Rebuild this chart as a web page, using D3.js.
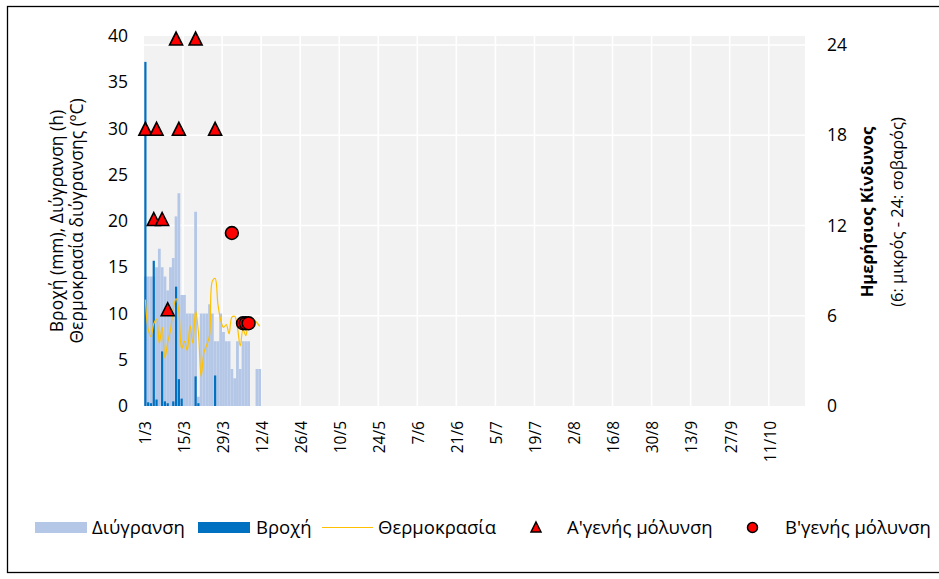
<!DOCTYPE html>
<html>
<head>
<meta charset="utf-8">
<script src="https://cdn.jsdelivr.net/npm/d3@7"></script>
<style>
	body { margin: 0; background: #fff; }
	text { font-family: "Open Sans", sans-serif; fill: #000; }
</style>
</head>
<body>
<svg id="chart" width="939" height="579"></svg>
<script>
// season runs 1/3 .. 23/10, one category per day
var seasonStart = new Date(2021, 2, 1),
	seasonEnd = new Date(2021, 9, 24);

var tickLabels = ["1/3", "15/3", "29/3", "12/4", "26/4", "10/5", "24/5", "7/6", "21/6",
	"5/7", "19/7", "2/8", "16/8", "30/8", "13/9", "27/9", "11/10"];
var leftTicks = [0, 5, 10, 15, 20, 25, 30, 35, 40];
var rightTicks = [0, 6, 12, 18, 24];

// daily values from 1/3 on (only the first weeks have data)
var wetness = [14, 14, 14, 14, 15, 17, 15, 14, 12.5, 15, 16, 20.5, 23, 12, 12, 10, 10, 10, 21, 1,
	10, 10, 10, 11, 10, 7, 7, 10, 8, 7, 7, 4, 3, 7, 4, 7, 7, 7, 0, 0, 4, 4];
var rain = [37.2, 0.4, 0.3, 15.7, 0.7, 0, 5.9, 0.5, 0.3, 0, 0.5, 12.9, 2.9, 0.8, 0, 0, 0, 0, 3.2, 0.3,
	0, 0, 0, 0, 0, 3.3, 0, 0, 0, 0, 0, 0, 0, 0, 0, 0, 0, 0, 0, 0, 0, 0];
var temperature = [11.5, 8.3, 7.5, 8.9, 9.4, 6.8, 8.5, 5.2, 6.9, 8.2, 10.5, 11.6, 10.2, 6.2, 7.0, 6.0,
	8.7, 6.8, 10.3, 8.0, 3.2, 5.8, 6.6, 7.6, 13.5, 13.8, 11.0, 9.3, 8.5, 8.8, 7.8, 9.6, 9.7, 8.5,
	6.5, 8.3, 7.6, 9.2, 9.5, 9.3, 9.0, 8.6];

var primaryDates = ["1/3", "4/3", "5/3", "7/3", "9/3", "12/3", "13/3", "19/3", "26/3"];
var primaryRisk = [18, 12, 18, 12, 6, 24, 18, 24, 18];
var secondaryDates = ["1/4", "5/4", "6/4", "7/4"];
var secondaryRisk = [11.5, 5.5, 5.5, 5.5];

var svg = d3.select("svg#chart"),
	margin = {top: 36, right: 134, bottom: 173, left: 144},
	W = +svg.attr("width"),
	H = +svg.attr("height"),
	x0 = margin.left, x1 = W - margin.right,
	y0 = H - margin.bottom, y1 = margin.top;

var fmt = d3.timeFormat("%-d/%-m");
var dayKeys = d3.timeDay.range(seasonStart, seasonEnd).map(fmt);

var x = d3.scaleBand().domain(dayKeys).range([x0, x1]).padding(0);
var bw = x.bandwidth();
var yL = d3.scaleLinear().domain([0, 40]).range([y0, y1]);
var yR = d3.scaleLinear().domain([0, 24.6]).range([y0, y1]);
var cx = function(k) { return x(k) + bw / 2; };

// frame (right side runs off the picture)
svg.append("rect")
	.attr("x", 7.5).attr("y", 6.5)
	.attr("width", W - 4).attr("height", H - 13)
	.attr("fill", "none").attr("stroke", "#000").attr("stroke-width", 1.3);

// plot background + gridlines
svg.append("rect")
	.attr("x", x0).attr("y", y1)
	.attr("width", x1 - x0).attr("height", y0 - y1)
	.attr("fill", "#F2F2F2");

svg.append("g").selectAll("line")
	.data(tickLabels.slice(1))
	.enter().append("line")
	.attr("x1", function(d) { return x(d); })
	.attr("x2", function(d) { return x(d); })
	.attr("y1", y1).attr("y2", y0)
	.attr("stroke", "#fff").attr("stroke-width", 1.6);

svg.append("g").selectAll("line")
	.data(rightTicks.slice(1))
	.enter().append("line")
	.attr("x1", x0).attr("x2", x1)
	.attr("y1", function(d) { return yR(d); })
	.attr("y2", function(d) { return yR(d); })
	.attr("stroke", "#fff").attr("stroke-width", 1.6);

// wetness bars
svg.append("g").selectAll("rect")
	.data(wetness)
	.enter().append("rect")
	.attr("x", function(d, i) { return x(dayKeys[i]); })
	.attr("y", function(d) { return yL(d); })
	.attr("width", bw)
	.attr("height", function(d) { return y0 - yL(d); })
	.attr("fill", "#B4C7E7");

// rain bars
var rw = 2.2;
svg.append("g").selectAll("rect")
	.data(rain)
	.enter().append("rect")
	.attr("x", function(d, i) { return cx(dayKeys[i]) - rw / 2; })
	.attr("y", function(d) { return yL(d); })
	.attr("width", rw)
	.attr("height", function(d) { return y0 - yL(d); })
	.attr("fill", "#0070C0");

// temperature
var line = d3.line()
	.x(function(d, i) { return cx(dayKeys[i]); })
	.y(function(d) { return yL(d); })
	.curve(d3.curveCatmullRom);

svg.append("path")
	.datum(temperature)
	.attr("d", line)
	.attr("fill", "none")
	.attr("stroke", "#FFC000")
	.attr("stroke-width", 1.2);

// infection markers
var tri = "M0,-13L6.5,0L-6.5,0Z";
svg.append("g").selectAll("path")
	.data(primaryDates)
	.enter().append("path")
	.attr("d", tri)
	.attr("transform", function(d, i) { return "translate(" + cx(d) + "," + yR(primaryRisk[i]) + ")"; })
	.attr("fill", "#FF0000").attr("stroke", "#000").attr("stroke-width", 1.6)
	.attr("stroke-linejoin", "miter");

svg.append("g").selectAll("circle")
	.data(secondaryDates)
	.enter().append("circle")
	.attr("cx", function(d) { return cx(d); })
	.attr("cy", function(d, i) { return yR(secondaryRisk[i]); })
	.attr("r", 6.4)
	.attr("fill", "#FF0000").attr("stroke", "#000").attr("stroke-width", 1.6);

// axes
var gl = svg.append("g")
	.attr("transform", "translate(" + (x0 - 16) + ",0)")
	.call(d3.axisLeft(yL).tickValues(leftTicks).tickSize(0).tickPadding(0));
gl.select(".domain").remove();
gl.selectAll("text").style("font-size", "17.5px").style("font-family", "Open Sans");

var gr = svg.append("g")
	.attr("transform", "translate(" + (x1 + 22) + ",0)")
	.call(d3.axisRight(yR).tickValues(rightTicks).tickSize(0).tickPadding(0));
gr.select(".domain").remove();
gr.selectAll("text").style("font-size", "17.5px").style("font-family", "Open Sans");

var gx = svg.append("g")
	.attr("transform", "translate(0," + y0 + ")")
	.call(d3.axisBottom(x).tickValues(tickLabels).tickSize(0));
gx.select(".domain").remove();
gx.selectAll("text")
	.style("font-size", "15.5px").style("font-family", "Open Sans")
	.attr("transform", "rotate(-90)")
	.attr("text-anchor", "end")
	.attr("x", -15).attr("y", 0)
	.attr("dy", "0.35em");

// axis titles
var ly = (y0 + y1) / 2;
svg.append("text")
	.attr("transform", "translate(57," + ly + ") rotate(-90)")
	.attr("text-anchor", "middle").attr("dy", "0.35em")
	.style("font-size", "17.5px")
	.text("Βροχή (mm), Διύγρανση (h)");
svg.append("text")
	.attr("transform", "translate(77," + ly + ") rotate(-90)")
	.attr("text-anchor", "middle").attr("dy", "0.35em")
	.style("font-size", "17.5px")
	.text("Θερμοκρασία διύγρανσης (ºC)");

svg.append("text")
	.attr("transform", "translate(867,212) rotate(-90)")
	.attr("text-anchor", "middle").attr("dy", "0.35em")
	.style("font-size", "16.5px").style("font-weight", "bold")
	.text("Ημερήσιος Κίνδυνος");
svg.append("text")
	.attr("transform", "translate(897,212) rotate(-90)")
	.attr("text-anchor", "middle").attr("dy", "0.35em")
	.style("font-size", "16.5px")
	.text("(6: μικρός - 24: σοβαρός)");

// legend
var leg = svg.append("g").attr("transform", "translate(0,527.5)");
leg.append("rect").attr("x", 35).attr("y", -5.5).attr("width", 52).attr("height", 11).attr("fill", "#B4C7E7");
leg.append("text").attr("x", 92).attr("dy", "0.35em").style("font-size", "18.5px").text("Διύγρανση");
leg.append("rect").attr("x", 198).attr("y", -5.5).attr("width", 52).attr("height", 11).attr("fill", "#0070C0");
leg.append("text").attr("x", 256).attr("dy", "0.35em").style("font-size", "18.5px").text("Βροχή");
leg.append("line").attr("x1", 322).attr("x2", 373).attr("stroke", "#FFC000").attr("stroke-width", 1.2);
leg.append("text").attr("x", 378).attr("dy", "0.35em").style("font-size", "18.5px").text("Θερμοκρασία");
leg.append("path").attr("d", "M0,-5.5L5,4.5L-5,4.5Z").attr("transform", "translate(536,0)")
	.attr("fill", "#FF0000").attr("stroke", "#000").attr("stroke-width", 1.5);
leg.append("text").attr("x", 567).attr("dy", "0.35em").style("font-size", "18.5px").text("Α'γενής μόλυνση");
leg.append("circle").attr("cx", 752.5).attr("r", 5).attr("fill", "#FF0000").attr("stroke", "#000").attr("stroke-width", 1.5);
leg.append("text").attr("x", 785).attr("dy", "0.35em").style("font-size", "18.5px").text("Β'γενής μόλυνση");
</script>
</body>
</html>
